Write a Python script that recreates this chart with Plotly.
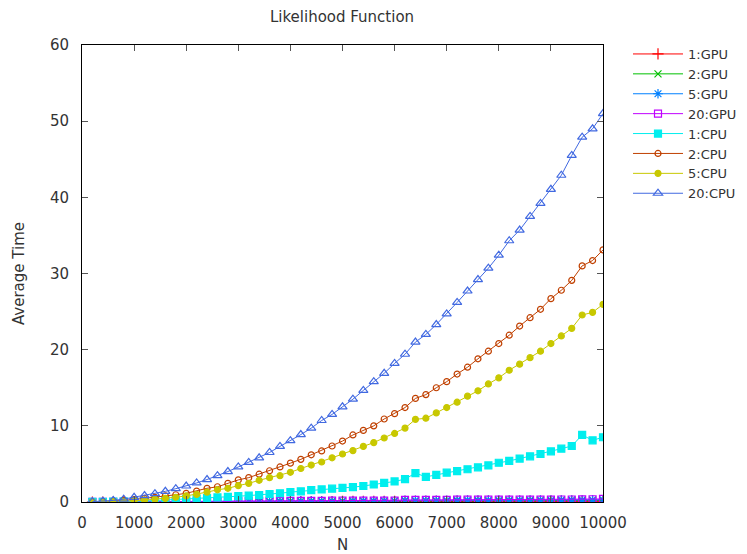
import plotly.graph_objects as go

N = [200, 400, 600, 800, 1000, 1200, 1400, 1600, 1800, 2000,
     2200, 2400, 2600, 2800, 3000, 3200, 3400, 3600, 3800, 4000,
     4200, 4400, 4600, 4800, 5000, 5200, 5400, 5600, 5800, 6000,
     6200, 6400, 6600, 6800, 7000, 7200, 7400, 7600, 7800, 8000,
     8200, 8400, 8600, 8800, 9000, 9200, 9400, 9600, 9800, 10000]

gpu1 = [0.00, 0.00, 0.01, 0.01, 0.01, 0.01, 0.02, 0.02, 0.02, 0.02,
        0.03, 0.03, 0.03, 0.04, 0.04, 0.04, 0.05, 0.05, 0.05, 0.05,
        0.06, 0.06, 0.06, 0.06, 0.07, 0.07, 0.07, 0.07, 0.07, 0.08,
        0.08, 0.08, 0.08, 0.08, 0.09, 0.09, 0.09, 0.09, 0.09, 0.10,
        0.10, 0.10, 0.10, 0.10, 0.11, 0.11, 0.11, 0.11, 0.12, 0.12]
gpu2 = [0.00, 0.01, 0.01, 0.01, 0.02, 0.02, 0.02, 0.03, 0.03, 0.03,
        0.04, 0.04, 0.05, 0.05, 0.06, 0.06, 0.06, 0.07, 0.07, 0.08,
        0.08, 0.08, 0.09, 0.09, 0.09, 0.10, 0.10, 0.10, 0.11, 0.11,
        0.12, 0.12, 0.12, 0.13, 0.13, 0.13, 0.14, 0.14, 0.14, 0.15,
        0.15, 0.15, 0.16, 0.16, 0.16, 0.17, 0.17, 0.17, 0.18, 0.19]
gpu5 = [0.01, 0.01, 0.01, 0.02, 0.02, 0.03, 0.03, 0.04, 0.04, 0.05,
        0.05, 0.06, 0.07, 0.07, 0.08, 0.09, 0.10, 0.10, 0.11, 0.11,
        0.12, 0.12, 0.13, 0.13, 0.13, 0.14, 0.14, 0.14, 0.15, 0.15,
        0.22, 0.22, 0.23, 0.23, 0.23, 0.24, 0.24, 0.24, 0.24, 0.25,
        0.25, 0.25, 0.26, 0.26, 0.26, 0.27, 0.27, 0.27, 0.28, 0.30]
gpu20 = [0.01, 0.01, 0.02, 0.02, 0.03, 0.03, 0.04, 0.05, 0.05, 0.06,
         0.07, 0.08, 0.09, 0.10, 0.11, 0.12, 0.13, 0.14, 0.14, 0.15,
         0.15, 0.16, 0.16, 0.17, 0.17, 0.17, 0.18, 0.18, 0.18, 0.19,
         0.28, 0.28, 0.29, 0.29, 0.29, 0.30, 0.30, 0.30, 0.30, 0.31,
         0.31, 0.31, 0.32, 0.32, 0.32, 0.33, 0.33, 0.34, 0.36, 0.40]
cpu1 = [0.01, 0.02, 0.04, 0.07, 0.10, 0.14, 0.19, 0.25, 0.31, 0.38,
        0.45, 0.52, 0.60, 0.68, 0.76, 0.84, 0.92, 1.05, 1.15, 1.30,
        1.40, 1.55, 1.65, 1.75, 1.85, 1.95, 2.10, 2.30, 2.50, 2.70,
        3.00, 3.80, 3.30, 3.55, 3.85, 4.05, 4.30, 4.55, 4.80, 5.15,
        5.40, 5.70, 6.00, 6.30, 6.65, 7.00, 7.35, 8.80, 8.10, 8.50]
cpu2 = [0.02, 0.06, 0.12, 0.22, 0.33, 0.47, 0.62, 0.80, 0.95, 1.14,
        1.44, 1.80, 2.00, 2.45, 2.90, 3.20, 3.65, 4.10, 4.60, 5.10,
        5.60, 6.20, 6.70, 7.35, 8.00, 8.80, 9.40, 10.00, 10.90, 11.60,
        12.40, 13.60, 14.10, 15.00, 15.80, 16.80, 17.70, 18.80, 19.80, 20.80,
        21.90, 23.10, 24.20, 25.30, 26.70, 27.80, 29.10, 31.00, 31.70, 33.10]
cpu5 = [0.01, 0.03, 0.06, 0.10, 0.17, 0.25, 0.35, 0.47, 0.62, 0.80,
        1.00, 1.30, 1.60, 1.80, 2.15, 2.45, 2.85, 3.20, 3.45, 3.90,
        4.40, 4.85, 5.25, 5.80, 6.30, 6.75, 7.30, 7.80, 8.40, 9.00,
        9.70, 10.85, 11.00, 11.70, 12.40, 13.10, 13.90, 14.60, 15.50, 16.30,
        17.30, 18.10, 18.95, 19.80, 20.80, 21.80, 22.80, 24.55, 24.90, 25.95]
cpu20 = [0.05, 0.10, 0.20, 0.38, 0.62, 0.85, 1.10, 1.40, 1.75, 2.10,
         2.50, 2.95, 3.45, 4.00, 4.60, 5.20, 5.80, 6.50, 7.30, 8.05,
         8.85, 9.70, 10.70, 11.50, 12.50, 13.50, 14.65, 15.80, 16.90, 18.20,
         19.40, 21.00, 22.00, 23.30, 24.70, 26.20, 27.70, 29.20, 30.70, 32.40,
         34.30, 35.70, 37.50, 39.20, 41.05, 42.90, 45.50, 47.90, 49.00, 51.00]

series_names = ["1:GPU", "2:GPU", "5:GPU", "20:GPU", "1:CPU", "2:CPU", "5:CPU", "20:CPU"]
series_values = [gpu1, gpu2, gpu5, gpu20, cpu1, cpu2, cpu5, cpu20]
colors = ["#ff0000", "#00c000", "#0080ff", "#c000ff", "#00eeee", "#c04000", "#c8c800", "#4169e1"]
symbols = ["cross-thin", "x-thin", "asterisk", "square-open", "square", "circle-open", "circle", "triangle-up-open"]
msizes = [8, 7, 8, 7, 7, 6, 6, 8]

x_ticks = [0, 1000, 2000, 3000, 4000, 5000, 6000, 7000, 8000, 9000, 10000]
y_ticks = [0, 10, 20, 30, 40, 50, 60]

fig = go.Figure()
for name, vals, c, s, ms in zip(series_names, series_values, colors, symbols, msizes):
    fig.add_trace(go.Scatter(
        x=N, y=vals, name=name, mode="lines+markers",
        line=dict(color=c, width=1),
        marker=dict(symbol=s, size=ms, color=c, line=dict(color=c, width=1.2)),
    ))

font_family = "DejaVu Sans, sans-serif"
txt = "#333"
axis_common = dict(
    showline=True, linecolor="black", linewidth=1, mirror="allticks",
    ticks="inside", ticklen=6, tickcolor="#555", showgrid=False, zeroline=False,
    automargin=False,
    tickfont=dict(family=font_family, size=15, color=txt),
)

# the page body adds an 8px offset, so the figure is sized 8px smaller
W, H = 739, 546
L, T, R, B = 74, 37, 144, 52
plot_w = W - L - R
plot_h = H - T - B

fig.update_layout(
    width=W, height=H,
    paper_bgcolor="white", plot_bgcolor="white",
    margin=dict(l=L, r=R, t=T, b=B, autoexpand=False),
    title=dict(text="Likelihood Function", x=(342 - 8) / W, xanchor="center",
               y=1 - 9 / H, yanchor="middle",
               font=dict(family=font_family, size=15, color=txt)),
    xaxis=dict(range=[0, 10000], tickvals=x_ticks, ticktext=[str(t) for t in x_ticks],
               ticklabelstandoff=7,
               title=dict(text="N", font=dict(family=font_family, size=15, color=txt), standoff=10),
               **axis_common),
    yaxis=dict(range=[0, 60], tickvals=y_ticks, ticktext=[str(t) for t in y_ticks],
               ticklabelstandoff=9,
               title=dict(text="Average Time", font=dict(family=font_family, size=15, color=txt), standoff=21),
               **axis_common),
    legend=dict(x=(620 - L) / plot_w, xanchor="left", y=1 + 6 / plot_h, yanchor="top",
                font=dict(family=font_family, size=13, color=txt),
                bgcolor="rgba(0,0,0,0)", tracegroupgap=0, itemwidth=50),
    showlegend=True,
)

fig.write_html("out.html")
